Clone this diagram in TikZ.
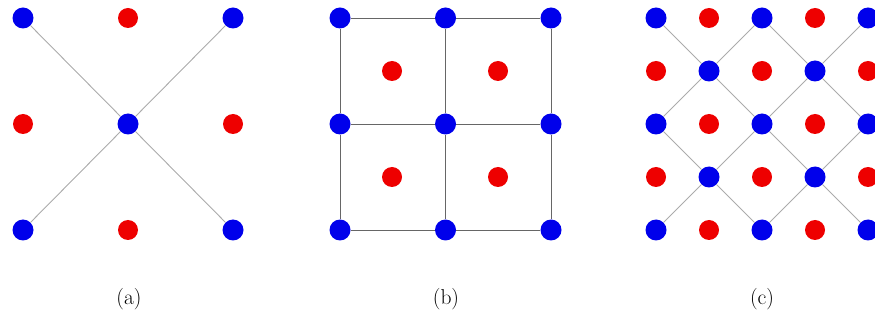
\documentclass[tikz,border=0pt]{standalone}
\usepackage{amsmath,amssymb}
\usetikzlibrary{positioning}
\definecolor{siteblue}{RGB}{0,0,235}
\definecolor{sitered}{RGB}{238,0,0}
\tikzset{
  bdot/.style={circle,fill=siteblue,minimum size=21pt,inner sep=0pt},
  rdot/.style={circle,fill=sitered,minimum size=20pt,inner sep=0pt},
  bond/.style={draw=black!33,line width=0.9pt},
  gridline/.style={draw=black!60,line width=0.9pt},
  caption/.style={font=\fontsize{21.5}{26}\selectfont}
}

\begin{document}
\begin{tikzpicture}[x=1pt,y=-1pt]
  \useasboundingbox (0,0) rectangle (875,320);
  % (a) centred lattice
  \foreach \i in {0,1,2}
    \foreach \j in {0,1,2} {
      \pgfmathtruncatemacro{\parity}{mod(\i+\j,2)}
      \ifnum\parity=0
        \node[bdot] (a\i\j) at ({23+105*\i},{18+106*\j}) {};
      \else
        \node[rdot] (a\i\j) at ({23+105*\i},{18+106*\j}) {};
      \fi
    }
  \draw[bond] (a00) -- (a11) -- (a22);
  \draw[bond] (a20) -- (a11) -- (a02);

  % (b) square lattice
  \foreach \i in {0,1,2}
    \foreach \j in {0,1,2}
      \node[bdot] (b\i\j) at ({340+105.5*\i},{18+106*\j}) {};
  \foreach \i in {0,1}
    \foreach \j in {0,1}
      \node[rdot] (r\i\j) at ({392+106*\i},{71+106*\j}) {};
  \draw[gridline] (b00) -- (b10) -- (b20) -- (b21) -- (b22) -- (b12) -- (b02) -- (b01) -- (b00);
  \draw[gridline] (b10) -- (b11) -- (b12);
  \draw[gridline] (b01) -- (b11) -- (b21);

  % (c) rotated lattice
  \foreach \i in {0,...,4}
    \foreach \j in {0,...,4} {
      \pgfmathtruncatemacro{\parity}{mod(\i+\j,2)}
      \ifnum\parity=0
        \node[bdot] (c\i\j) at ({656+53*\i},{18+53*\j}) {};
      \else
        \node[rdot] (c\i\j) at ({656+53*\i},{18+53*\j}) {};
      \fi
    }
  \draw[bond] (c00) -- (c11) -- (c22) -- (c33) -- (c44);
  \draw[bond] (c20) -- (c31) -- (c42);
  \draw[bond] (c02) -- (c13) -- (c24);
  \draw[bond] (c04) -- (c13) -- (c22) -- (c31) -- (c40);
  \draw[bond] (c02) -- (c11) -- (c20);
  \draw[bond] (c24) -- (c33) -- (c42);

  \node[caption] (la) at (129,299) {(a)};
  \node[caption] (lb) at (446,299) {(b)};
  \node[caption] (lc) at (762,299) {(c)};
\end{tikzpicture}
\end{document}
